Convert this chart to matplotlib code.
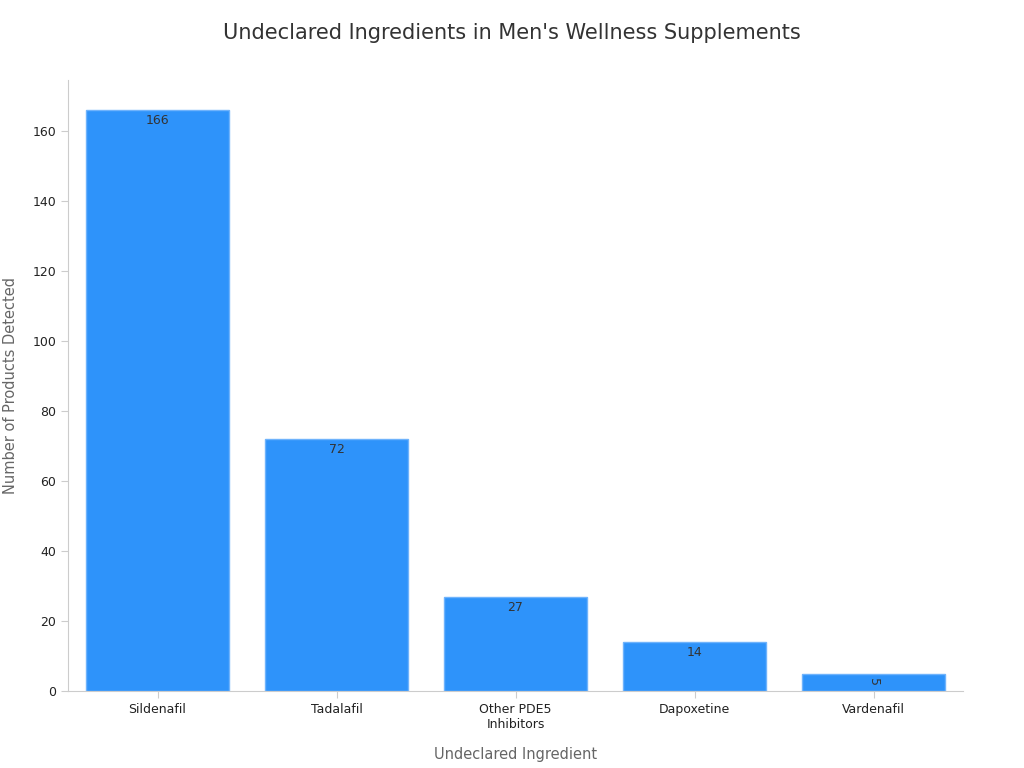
import matplotlib
matplotlib.use("Agg")
import matplotlib.pyplot as plt

categories = ["Sildenafil", "Tadalafil", "Other PDE5\nInhibitors", "Dapoxetine", "Vardenafil"]
values = [166, 72, 27, 14, 5]

fig = plt.figure(figsize=(10.24, 7.68), dpi=100)
ax = fig.add_axes([68/1024, 1-691/768, (963-68)/1024, (691-80)/768])
x = list(range(len(categories)))
bars = ax.bar(x, values, width=0.8, color="#2E93FA", edgecolor="#6FB3FC", linewidth=1)
for i, (b, v) in enumerate(zip(bars, values)):
    rot = -90 if v < 8 else 0
    ax.text(b.get_x() + b.get_width()/2, v - 1.2, str(v), ha="center", va="top",
            fontsize=9, color="#333333", rotation=rot)
ax.set_xlim(-0.5, 4.5)
ax.set_ylim(0, 174.6)
ax.set_xticks(x)
ax.set_xticklabels(categories, fontsize=9, color="#222222")
ax.set_yticks(range(0, 161, 20))
ax.tick_params(axis="y", labelsize=9, colors="#222222", length=5, color="#cccccc")
ax.tick_params(axis="x", length=5, color="#cccccc")
for s in ["top", "right"]:
    ax.spines[s].set_visible(False)
for s in ["left", "bottom"]:
    ax.spines[s].set_color("#cccccc")
ax.set_xlabel("Undeclared Ingredient", fontsize=10.5, color="#666666", labelpad=12)
ax.set_ylabel("Number of Products Detected", fontsize=10.5, color="#666666", labelpad=10)
fig.text(0.5, 1-33/768, "Undeclared Ingredients in Men's Wellness Supplements",
         ha="center", va="center", fontsize=15, color="#333333")
fig.savefig("out.png", dpi=100)
